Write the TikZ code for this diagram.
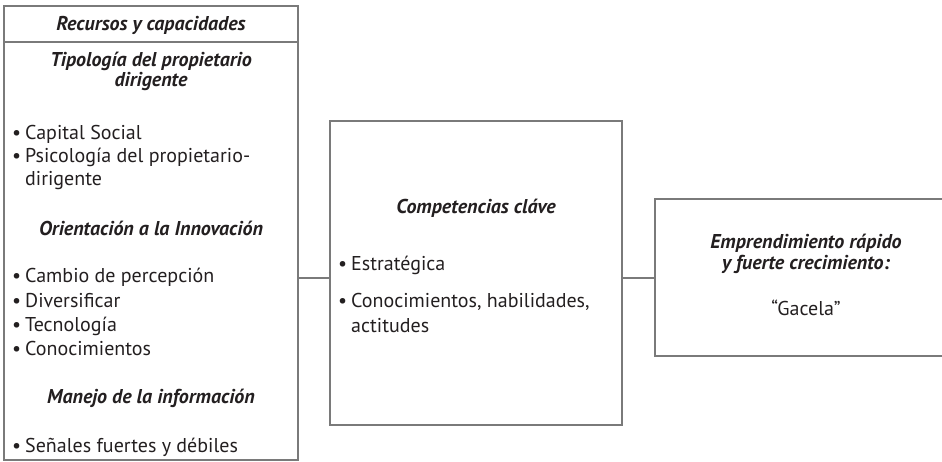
\documentclass[tikz,border=0pt]{standalone}
\usepackage{fontspec}
\setmainfont{PT Sans}
\begin{document}
\begin{tikzpicture}[x=1pt,y=-1pt,
  box/.style={draw=linegray, line width=1.4pt, inner sep=0pt},
  conn/.style={draw=linegray, line width=1.4pt},
  hd/.style={font=\fontsize{20}{20}\selectfont\itshape\bfseries, text=textc, inner sep=0pt, anchor=base},
  tx/.style={font=\fontsize{20}{20}\selectfont, text=textc, inner sep=0pt, anchor=base west},
  txc/.style={font=\fontsize{20}{20}\selectfont, text=textc, inner sep=0pt, anchor=base}]
\definecolor{linegray}{HTML}{7A7A7A}
\definecolor{textc}{HTML}{231F20}
\useasboundingbox (0,0) rectangle (942,462);
\begin{scope}
\clip (0,0) rectangle (942,462);
% boxes
\node[box, minimum width=294pt, minimum height=454pt] (L) at (151,233) {};
\node[box, minimum width=292pt, minimum height=304pt] (M) at (476,273) {};
\node[box, minimum width=345pt, minimum height=157pt] (R) at (827.5,277.5) {};
\coordinate (d1) at (4,42);
\coordinate (d2) at (298,42);
\draw[conn] (d1) -- (d2);
% connectors
\draw[conn] (L.east |- 0,278) -- (M.west |- 0,278);
\draw[conn] (M.east |- 0,278) -- (R.west |- 0,278);
\end{scope}
% left texts
\node[hd] (h1) at (151,31) {Recursos y capacidades};
\node[hd] (h2a) at (151,67) {Tipología del propietario};
\node[hd] (h2b) at (151,87) {dirigente};
\node[tx] (b1) at (12,140) {\makebox[13pt][l]{•}Capital Social};
\node[tx] (b2) at (12,163) {\makebox[13pt][l]{•}Psicología del propietario-};
\node[tx] (b2b) at (25,186) {dirigente};
\node[hd] (h3) at (151,236) {Orientación a la Innovación};
\node[tx] (b3) at (12,283) {\makebox[13pt][l]{•}Cambio de percepción};
\node[tx] (b4) at (12,307) {\makebox[13pt][l]{•}Diversificar};
\node[tx] (b5) at (12,331) {\makebox[13pt][l]{•}Tecnología};
\node[tx] (b6) at (12,355) {\makebox[13pt][l]{•}Conocimientos};
\node[hd] (h4) at (151,403) {Manejo de la información};
\node[tx] (b7) at (12,452) {\makebox[13pt][l]{•}Señales fuertes y débiles};
% middle texts
\node[hd] (m1) at (476,214) {Competencias cláve};
\node[tx] (m2) at (338,271) {\makebox[13pt][l]{•}Estratégica};
\node[tx] (m3) at (338,308) {\makebox[13pt][l]{•}Conocimientos, habilidades,};
\node[tx] (m3b) at (351,332) {actitudes};
% right texts
\node[hd] (r1) at (806,249) {Emprendimiento rápido};
\node[hd] (r2) at (806,270) {y fuerte crecimiento:};
\node[txc] (r3) at (806,315) {“Gacela”};
\end{tikzpicture}
\end{document}
